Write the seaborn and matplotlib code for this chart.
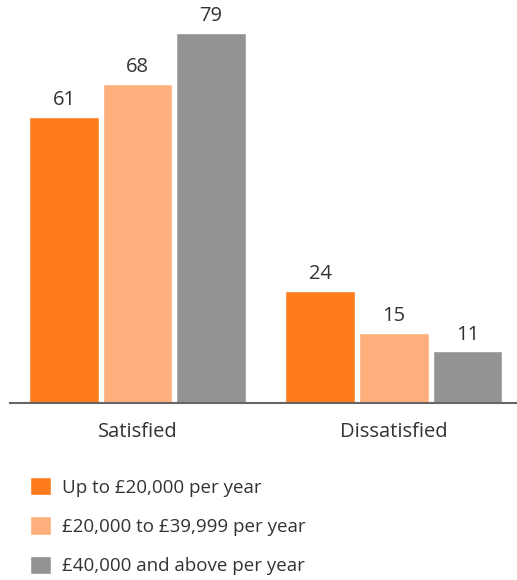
import matplotlib
matplotlib.use("Agg")
import matplotlib.pyplot as plt
import seaborn as sns
import pandas as pd

categories = ["Satisfied", "Dissatisfied"]
income_bands = ["Up to £20,000 per year", "£20,000 to £39,999 per year", "£40,000 and above per year"]
up_to_20k = [61, 24]
from_20k_to_40k = [68, 15]
above_40k = [79, 11]
band_colors = ["#FE7B1E", "#FFAF7B", "#939393"]

rows = []
for band, vals in zip(income_bands, [up_to_20k, from_20k_to_40k, above_40k]):
    for cat, v in zip(categories, vals):
        rows.append({"category": cat, "band": band, "value": v})
df = pd.DataFrame(rows)

sns.set_theme(style="white")
plt.rcParams["font.family"] = ["Open Sans", "DejaVu Sans"]
text_color = "#333333"

fig = plt.figure(figsize=(5.17, 5.80), dpi=100)
ax = fig.add_axes([10 / 517, 1 - 403 / 580, 507 / 517, 403 / 580])

sns.barplot(data=df, x="category", y="value", hue="band", order=categories,
            hue_order=income_bands, palette=band_colors, width=0.86, gap=0.05,
            saturation=1, ax=ax, legend=True)

for cont in ax.containers:
    ax.bar_label(cont, padding=5, fontsize=14.5, color=text_color)

ax.set_ylim(0, 86)
ax.set_xlim(-0.497, 1.48)
ax.set_xlabel("")
ax.set_ylabel("")
ax.set_yticks([])
for side in ["top", "right", "left"]:
    ax.spines[side].set_visible(False)
ax.spines["bottom"].set_color("#666666")
ax.spines["bottom"].set_linewidth(1.5)
ax.tick_params(axis="x", length=0, pad=13.5, labelsize=14.5, labelcolor=text_color)

handles, labels = ax.get_legend_handles_labels()
ax.get_legend().remove()
fig.legend(handles, labels, loc="upper left", bbox_to_anchor=(13 / 517, 1 - 460 / 580),
           frameon=False, fontsize=13.5, handlelength=1.15, handleheight=1.15,
           labelspacing=1.05, handletextpad=0.55, labelcolor=text_color)

fig.savefig("out.png", dpi=100)
